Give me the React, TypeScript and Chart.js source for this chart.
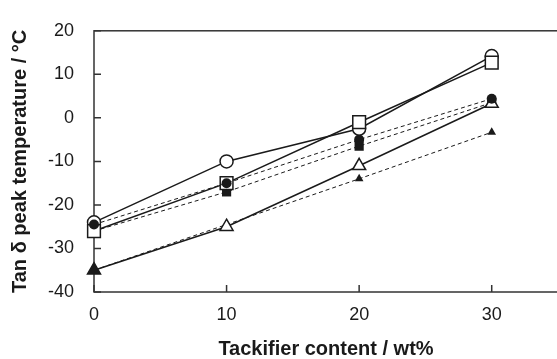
import React, { useEffect, useRef } from "react";
import { Chart, registerables } from "chart.js";

Chart.register(...registerables);

const tackifierContent = [0, 10, 20, 30];
const openCircle = [-24, -10, -2.5, 14.2];
const openSquare = [-26, -15, -1, 12.7];
const openTriangle = [-35, -25, -11, 3.3];
const filledCircle = [-24.5, -15, -5, 4.4];
const filledSquare = [-26, -17, -6.5, 3.5];
const filledTriangle = [-35, -24.5, -14, -3.3];
const xTickValues = [0, 10, 20, 30];
const yTickValues = [-40, -30, -20, -10, 0, 10, 20];

const W = 570;
const H = 359;
const INK = "#1a1a1a";
const FONT = "'Liberation Sans', Arial, sans-serif";

const pts = (ys: number[]) => tackifierContent.map((x, i) => ({ x, y: ys[i] }));

const framePlugin = {
  id: "frame",
  beforeDatasetsDraw(chart: any) {
    const { ctx, chartArea: a, scales } = chart;
    ctx.save();
    ctx.strokeStyle = "#333";
    ctx.lineWidth = 1.5;
    ctx.strokeRect(a.left, a.top, a.right - a.left, a.bottom - a.top);
    ctx.beginPath();
    xTickValues.forEach((v) => {
      const px = scales.x.getPixelForValue(v);
      ctx.moveTo(px, a.bottom);
      ctx.lineTo(px, a.bottom - 7);
    });
    yTickValues.forEach((v) => {
      const py = scales.y.getPixelForValue(v);
      ctx.moveTo(a.left, py);
      ctx.lineTo(a.left + 7, py);
    });
    ctx.stroke();
    ctx.restore();
  },
};

export default function App() {
  const ref = useRef<HTMLCanvasElement | null>(null);
  useEffect(() => {
    if (!ref.current) return;
    const open = (data: number[], style: string, r: number, bg: any = "#fff") => ({
      data: pts(data),
      borderColor: INK,
      borderWidth: 1.5,
      pointStyle: style,
      pointRadius: r,
      pointBackgroundColor: bg,
      pointBorderColor: INK,
      pointBorderWidth: 1.5,
      clip: false,
    });
    const filled = (data: number[], style: string, r: number) => ({
      data: pts(data),
      borderColor: INK,
      borderWidth: 1,
      borderDash: [4, 3],
      pointStyle: style,
      pointRadius: r,
      pointBackgroundColor: INK,
      pointBorderColor: INK,
      pointBorderWidth: 0,
      clip: false,
    });
    const chart = new Chart(ref.current, {
      type: "line",
      data: {
        datasets: [
          filled(filledCircle, "circle", 5),
          open(openSquare, "rect", 9),
          open(openCircle, "circle", 6.5),
          open(openTriangle, "triangle", 7.5, [INK, "#fff", "#fff", "#fff"]),
          filled(filledSquare, "rect", 6.5),
          filled(filledTriangle, "triangle", 5),
        ] as any,
      },
      options: {
        animation: false,
        responsive: false,
        devicePixelRatio: 1,
        layout: { padding: { left: 0, top: 22, right: W - 558, bottom: 0 } },
        plugins: { legend: { display: false }, tooltip: { enabled: false } },
        scales: {
          x: {
            type: "linear",
            min: 0,
            max: 35,
            grid: { display: false, drawTicks: false },
            border: { display: false },
            ticks: {
              stepSize: 10,
              includeBounds: false,
              autoSkip: false,
              padding: 12,
              color: INK,
              font: { family: FONT, size: 18 },
            },
            title: {
              display: true,
              text: "Tackifier content / wt%",
              color: INK,
              font: { family: FONT, size: 20, weight: "bold", lineHeight: 1 },
              padding: { top: 0, bottom: 0 },
            },
            afterFit: (s: any) => {
              s.height = H - 292;
            },
          },
          y: {
            min: -40,
            max: 20,
            grid: { display: false, drawTicks: false },
            border: { display: false },
            ticks: {
              stepSize: 10,
              padding: 20,
              color: INK,
              font: { family: FONT, size: 18 },
            },
            title: {
              display: true,
              text: "Tan δ peak temperature / °C",
              color: INK,
              font: { family: FONT, size: 20, weight: "bold", lineHeight: 1 },
              padding: { top: 10, bottom: 0 },
            },
            afterFit: (s: any) => {
              s.width = 94;
            },
          },
        },
      } as any,
      plugins: [framePlugin],
    });
    return () => chart.destroy();
  }, []);
  return (
    <div style={{ position: "absolute", left: 0, top: 0, width: 557, height: 359, overflow: "hidden", background: "#fff" }}>
      <canvas ref={ref} width={W} height={H} style={{ width: W, height: H, display: "block" }} />
    </div>
  );
}
